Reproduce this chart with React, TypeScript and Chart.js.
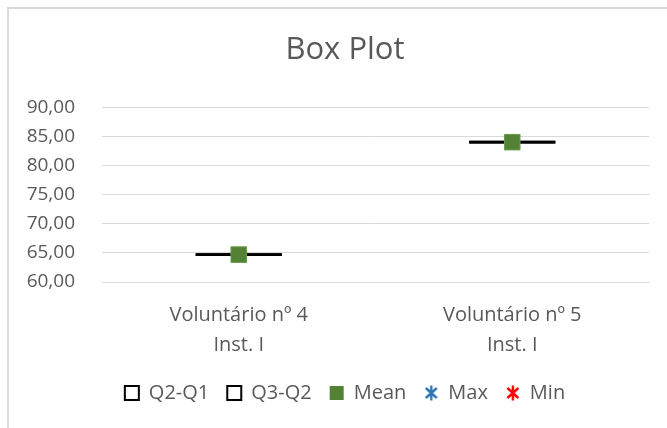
import React, { useEffect, useRef } from "react";
import { Chart, registerables } from "chart.js";

Chart.register(...registerables);

// ---- data ----
const categories: string[][] = [
  ["Voluntário nº 4", "Inst. I"],
  ["Voluntário nº 5", "Inst. I"],
];
const q1Values = [64.7, 84.0];
const q2Values = [64.7, 84.0];
const q3Values = [64.7, 84.0];
const meanValues = [64.7, 84.0];
const maxValues = [64.7, 84.0];
const minValues = [64.7, 84.0];
const seriesNames = ["Q2-Q1", "Q3-Q2", "Mean", "Max", "Min"];
const yMin = 60;
const yMax = 90;
const yStep = 5;

const TEXT = "#595959";

function makeAsterisk(color: string): HTMLCanvasElement {
  const c = document.createElement("canvas");
  c.width = 14;
  c.height = 16;
  const g = c.getContext("2d")!;
  g.strokeStyle = color;
  g.lineWidth = 2.4;
  g.beginPath();
  g.moveTo(1.5, 3);
  g.lineTo(12.5, 13);
  g.moveTo(12.5, 3);
  g.lineTo(1.5, 13);
  g.moveTo(7, 0.5);
  g.lineTo(7, 15.5);
  g.stroke();
  return c;
}

const boxOutline = {
  id: "boxOutline",
  beforeDatasetsDraw(chart: any) {
    const ctx = chart.ctx;
    ctx.save();
    ctx.strokeStyle = "#000000";
    ctx.lineWidth = 2.6;
    chart.data.datasets.forEach((ds: any, i: number) => {
      if (ds.type && ds.type !== "bar") return;
      if (!chart.isDatasetVisible(i)) return;
      const meta = chart.getDatasetMeta(i);
      meta.data.forEach((el: any) => {
        const { x, y, base, width } = el.getProps(["x", "y", "base", "width"], true);
        ctx.strokeRect(x - width / 2, Math.min(y, base), width, Math.abs(base - y));
      });
    });
    ctx.restore();
  },
};

export default function App() {
  const ref = useRef<HTMLCanvasElement | null>(null);

  useEffect(() => {
    if (!ref.current) return;
    Chart.defaults.font.family = "'Open Sans', sans-serif";
    const maxStar = makeAsterisk("#2E75B6");
    const minStar = makeAsterisk("#FF0000");

    const legendStyles: any[] = [
      { pointStyle: "rect", fillStyle: "#ffffff", strokeStyle: "#000000", lineWidth: 2 },
      { pointStyle: "rect", fillStyle: "#ffffff", strokeStyle: "#000000", lineWidth: 2 },
      { pointStyle: "rect", fillStyle: "#548235", strokeStyle: "#548235", lineWidth: 0 },
      { pointStyle: maxStar, fillStyle: "#2E75B6", strokeStyle: "#2E75B6", lineWidth: 0 },
      { pointStyle: minStar, fillStyle: "#FF0000", strokeStyle: "#FF0000", lineWidth: 0 },
    ];

    const chart = new Chart(ref.current, {
      type: "bar",
      data: {
        labels: categories as any,
        datasets: [
          {
            label: seriesNames[0],
            data: q1Values.map((v, i) => [v, q2Values[i]]) as any,
            backgroundColor: "rgba(0,0,0,0)",
            borderWidth: 0,
            grouped: false,
            barPercentage: 0.315,
            categoryPercentage: 1,
          } as any,
          {
            label: seriesNames[1],
            data: q2Values.map((v, i) => [v, q3Values[i]]) as any,
            backgroundColor: "rgba(0,0,0,0)",
            borderWidth: 0,
            grouped: false,
            barPercentage: 0.315,
            categoryPercentage: 1,
          } as any,
          {
            type: "line",
            label: seriesNames[2],
            data: meanValues,
            showLine: false,
            pointStyle: "rect",
            pointRadius: 11,
            pointHoverRadius: 11,
            backgroundColor: "#548235",
            borderColor: "#6B9B4B",
            borderWidth: 1,
          } as any,
          {
            type: "line",
            label: seriesNames[3],
            data: maxValues,
            showLine: false,
            pointStyle: maxStar,
            pointRadius: 6,
            backgroundColor: "#2E75B6",
            borderColor: "#2E75B6",
          } as any,
          {
            type: "line",
            label: seriesNames[4],
            data: minValues,
            showLine: false,
            pointStyle: minStar,
            pointRadius: 6,
            backgroundColor: "#FF0000",
            borderColor: "#FF0000",
          } as any,
        ],
      },
      options: {
        animation: false,
        responsive: true,
        maintainAspectRatio: false,
        events: [],
        layout: { padding: { left: 18, right: 11, top: 0, bottom: 15 } },
        plugins: {
          tooltip: { enabled: false },
          title: {
            display: true,
            text: "Box Plot",
            color: TEXT,
            font: { size: 31, weight: "normal" as any },
            padding: { top: 23, bottom: 38 },
          },
          legend: {
            position: "bottom",
            labels: {
              usePointStyle: true,
              boxWidth: 14,
              boxHeight: 14,
              padding: 18,
              color: TEXT,
              font: { size: 20 },
              generateLabels: (c: any) => {
                const items = (Chart.defaults.plugins.legend.labels as any).generateLabels(c);
                items.forEach((it: any) => {
                  const s = legendStyles[it.datasetIndex];
                  it.pointStyle = s.pointStyle;
                  it.fillStyle = s.fillStyle;
                  it.strokeStyle = s.strokeStyle;
                  it.lineWidth = s.lineWidth;
                  it.fontColor = TEXT;
                });
                return items;
              },
            },
          },
        },
        scales: {
          x: {
            grid: { display: false },
            border: { display: false },
            ticks: {
              color: TEXT,
              font: { size: 20, lineHeight: 1.47 },
              padding: 11,
              maxRotation: 0,
              autoSkip: false,
            },
            afterFit: (s: any) => {
              s.height = 83;
            },
          },
          y: {
            min: yMin,
            max: yMax,
            border: { display: false },
            grid: { color: "#d9d9d9", drawTicks: false, lineWidth: 1 },
            ticks: {
              stepSize: yStep,
              color: TEXT,
              font: { size: 19 },
              padding: 27,
              callback: (v: any) => Number(v).toFixed(2).replace(".", ","),
            },
            afterFit: (s: any) => {
              s.width = 75;
            },
          },
          yRight: {
            type: "linear",
            position: "right",
            min: 0,
            max: 1,
            grid: { display: false },
            border: { display: false },
            ticks: { display: false },
            afterFit: (s: any) => {
              s.width = 14;
            },
          } as any,
        },
      },
      plugins: [boxOutline],
    });
    return () => chart.destroy();
  }, []);

  return (
    <div
      style={{
        position: "fixed",
        left: 7,
        top: 7,
        width: 660,
        height: 421,
        overflow: "hidden",
        background: "#fff",
      }}
    >
      <div
        style={{
          borderTop: "2px solid #d9d9d9",
          borderLeft: "2px solid #d9d9d9",
          width: 680,
          height: 440,
        }}
      >
        <div style={{ position: "relative", width: 665, height: 419 }}>
          <canvas ref={ref} />
        </div>
      </div>
    </div>
  );
}
